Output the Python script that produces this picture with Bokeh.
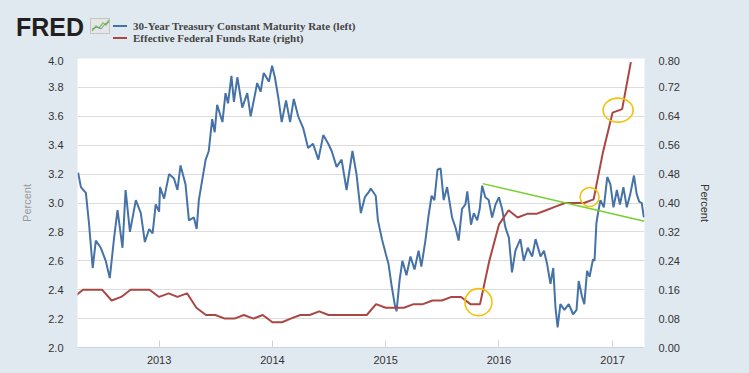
import pandas as pd
from bokeh.plotting import figure
from bokeh.layouts import column
from bokeh.models import (Range1d, LinearAxis, FixedTicker, DatetimeTickFormatter,
                          NumeralTickFormatter, Div)
from bokeh.embed import file_html
from bokeh.resources import INLINE

# ---------------- data ----------------
blue_dates = [
    "2012-04-15", "2012-04-24", "2012-05-10", "2012-05-20", "2012-06-01", "2012-06-11",
    "2012-06-27", "2012-07-13", "2012-07-26", "2012-08-09", "2012-08-20", "2012-09-05",
    "2012-09-15", "2012-09-29", "2012-10-18", "2012-11-03", "2012-11-16", "2012-11-30",
    "2012-12-11", "2012-12-21", "2013-01-01", "2013-01-04", "2013-01-17", "2013-02-02",
    "2013-02-18", "2013-03-01", "2013-03-11", "2013-03-27", "2013-04-07", "2013-04-23",
    "2013-05-02", "2013-05-09", "2013-05-23", "2013-05-31", "2013-06-10", "2013-06-21",
    "2013-06-29", "2013-07-07", "2013-07-24", "2013-08-03", "2013-08-11", "2013-08-22",
    "2013-08-30", "2013-09-10", "2013-09-26", "2013-10-12", "2013-10-23", "2013-11-13",
    "2013-11-24", "2013-12-04", "2013-12-21", "2013-12-31", "2014-01-09", "2014-01-20",
    "2014-01-31", "2014-02-14", "2014-02-27", "2014-03-11", "2014-03-25", "2014-04-10",
    "2014-04-26", "2014-05-12", "2014-05-29", "2014-06-14", "2014-06-30", "2014-07-11",
    "2014-07-27", "2014-08-12", "2014-08-28", "2014-09-16", "2014-09-29", "2014-10-13",
    "2014-10-26", "2014-11-09", "2014-11-14", "2014-11-30", "2014-12-07", "2014-12-20",
    "2015-01-01", "2015-01-10", "2015-01-20", "2015-01-30", "2015-02-05", "2015-02-15",
    "2015-02-24", "2015-03-09", "2015-03-22", "2015-04-04", "2015-04-17", "2015-04-26",
    "2015-05-09", "2015-05-19", "2015-05-29", "2015-06-07", "2015-06-17", "2015-06-27",
    "2015-07-07", "2015-07-18", "2015-08-03", "2015-08-14", "2015-08-24", "2015-09-04",
    "2015-09-15", "2015-09-21", "2015-10-03", "2015-10-12", "2015-10-23", "2015-10-31",
    "2015-11-08", "2015-11-18", "2015-11-29", "2015-12-10", "2015-12-21", "2016-01-01",
    "2016-01-11", "2016-01-22", "2016-02-02", "2016-02-12", "2016-02-23", "2016-03-10",
    "2016-03-21", "2016-04-03", "2016-04-17", "2016-04-28", "2016-05-14", "2016-05-25",
    "2016-06-04", "2016-06-15", "2016-06-24", "2016-07-01", "2016-07-08", "2016-07-17",
    "2016-07-30", "2016-08-13", "2016-08-27", "2016-09-07", "2016-09-14", "2016-09-25",
    "2016-10-02", "2016-10-11", "2016-10-19", "2016-10-30", "2016-11-04", "2016-11-10",
    "2016-11-16", "2016-11-23", "2016-12-04", "2016-12-15", "2016-12-25", "2017-01-04",
    "2017-01-15", "2017-01-25", "2017-02-05", "2017-02-16", "2017-02-27", "2017-03-11",
    "2017-03-20", "2017-03-28", "2017-04-05", "2017-04-12",
]
blue_values = [
    3.21, 3.11, 3.07, 2.86, 2.55, 2.74,
    2.69, 2.60, 2.48, 2.76, 2.95, 2.69,
    3.09, 2.80, 3.02, 2.93, 2.73, 2.82,
    2.79, 2.99, 2.94, 3.11, 3.03, 3.20,
    3.17, 3.09, 3.26, 3.13, 2.88, 2.90,
    2.82, 3.02, 3.20, 3.30, 3.36, 3.58,
    3.49, 3.68, 3.56, 3.76, 3.69, 3.88,
    3.70, 3.87, 3.66, 3.76, 3.60, 3.83,
    3.77, 3.90, 3.84, 3.95, 3.87, 3.73,
    3.56, 3.71, 3.56, 3.72, 3.60, 3.52,
    3.38, 3.41, 3.30, 3.47, 3.41, 3.36,
    3.25, 3.30, 3.09, 3.36, 3.20, 2.93,
    3.04, 3.08, 3.10, 3.05, 2.88, 2.75,
    2.65, 2.58, 2.43, 2.30, 2.25, 2.47,
    2.60, 2.50, 2.63, 2.54, 2.67, 2.56,
    2.74, 2.91, 3.05, 3.02, 3.23, 3.24,
    3.02, 3.11, 2.90, 2.83, 2.74, 2.96,
    2.99, 3.08, 2.85, 2.93, 2.88, 2.96,
    3.12, 3.04, 3.02, 2.90, 2.99, 3.04,
    2.96, 2.83, 2.76, 2.52, 2.67, 2.75,
    2.60, 2.69, 2.63, 2.75, 2.63, 2.67,
    2.58, 2.44, 2.55, 2.28, 2.14, 2.30,
    2.26, 2.30, 2.23, 2.26, 2.46, 2.35,
    2.30, 2.53, 2.49, 2.61, 2.60, 2.86,
    2.94, 3.02, 2.97, 3.18, 3.13, 2.97,
    3.09, 2.99, 3.11, 2.97, 3.06, 3.19,
    3.06, 3.01, 3.00, 2.90,
]

red_months = pd.date_range("2012-04-01", "2017-03-01", freq="MS")
red_values = [
    0.14, 0.16, 0.16, 0.16, 0.13, 0.14, 0.16, 0.16, 0.16,            # 2012 Apr-Dec
    0.14, 0.15, 0.14, 0.15, 0.11, 0.09, 0.09, 0.08, 0.08, 0.09, 0.08, 0.09,  # 2013
    0.07, 0.07, 0.08, 0.09, 0.09, 0.10, 0.09, 0.09, 0.09, 0.09, 0.09, 0.12,  # 2014
    0.11, 0.11, 0.11, 0.12, 0.12, 0.13, 0.13, 0.14, 0.14, 0.12, 0.12, 0.24,  # 2015
    0.34, 0.38, 0.36, 0.37, 0.37, 0.38, 0.39, 0.40, 0.40, 0.40, 0.41, 0.54,  # 2016
    0.65, 0.66, 0.79,                                                 # 2017
]

year_ticks = [2013, 2014, 2015, 2016, 2017]
left_ticks = [2.0, 2.2, 2.4, 2.6, 2.8, 3.0, 3.2, 3.4, 3.6, 3.8, 4.0]
right_ticks = [0.0, 0.08, 0.16, 0.24, 0.32, 0.40, 0.48, 0.56, 0.64, 0.72, 0.80]

# hand-drawn annotations (data units)
trend_dates = ["2015-11-10", "2017-04-14"]
trend_values = [3.134, 2.873]
ring_dates = ["2015-10-27", "2016-10-19", "2017-01-19"]
ring_values = [0.1255, 0.4165, 0.657]          # right axis units
ring_w = [27, 19, 30]
ring_h = [27, 19, 24]

series_names = ["30-Year Treasury Constant Maturity Rate (left)",
                "Effective Federal Funds Rate (right)"]

BG = "#e1e9f0"
FONT = "Liberation Sans"
BLUE = "#4572a7"
RED = "#aa4643"

# ---------------- header: logo + legend (HTML strip above the chart) ----------------
HEADER_H = 56
legend_html = ""
for i, (col, name) in enumerate(zip([BLUE, RED], series_names)):
    yc = 25.5 + 12 * i
    legend_html += (
        f'<div style="position:absolute;left:113px;top:{yc - 1}px;width:14px;height:2px;'
        f'background:{col};"></div>'
        f'<div style="position:absolute;left:133px;top:{yc - 7}px;height:14px;line-height:14px;'
        f'white-space:nowrap;font-family:\'Liberation Serif\';font-weight:bold;'
        f'font-size:11px;color:#444444;">{name}</div>'
    )
icon_svg = (
    '<svg style="position:absolute;left:90px;top:18px;" width="21" height="16" '
    'xmlns="http://www.w3.org/2000/svg">'
    '<rect x="0.5" y="0.5" width="19" height="15" fill="#e6e6e6" stroke="#c4c4c4"/>'
    '<polyline points="2,13 6,8 9,10 13,5 16,7 19,2" fill="none" stroke="#8dc63f" '
    'stroke-width="1.5"/>'
    '<polyline points="2,11 7,9 11,11 15,6 19,4" fill="none" stroke="#5b8fc9" '
    'stroke-width="1"/>'
    '</svg>'
)
header_html = (
    f'<div style="position:relative;width:749px;height:{HEADER_H}px;background:{BG};'
    f'margin:0;padding:0;">'
    f'<div style="position:absolute;left:16px;top:12px;height:30px;line-height:30px;'
    f'font-family:\'Liberation Sans\';font-weight:bold;font-size:25px;color:#231f20;'
    f'white-space:nowrap;">FRED</div>'
    f'{icon_svg}{legend_html}</div>'
)
header = Div(text=header_html, width=749, height=HEADER_H, margin=0,
             styles={"background-color": BG, "margin": "0", "padding": "0"})

# ---------------- chart ----------------
W, H = 749, 373 - HEADER_H
FL, FR, FT, FB = 77, 105, 2, 26   # borders around the plot frame
p = figure(width=W, height=H, x_axis_type="datetime",
           x_range=Range1d(pd.Timestamp("2012-04-13"), pd.Timestamp("2017-04-14")),
           y_range=Range1d(2.0, 4.0),
           output_backend="svg", toolbar_location=None,
           min_border_left=FL, min_border_right=FR, min_border_top=FT, min_border_bottom=FB,
           background_fill_color="white", border_fill_color=BG, outline_line_color=None,
           margin=0)
p.extra_y_ranges = {"right": Range1d(0.0, 0.8)}

p.xgrid.grid_line_color = None
p.ygrid.grid_line_color = "#dcdcdc"
p.ygrid.grid_line_width = 1

xa = p.xaxis[0]
xa.ticker = FixedTicker(ticks=[pd.Timestamp(f"{y}-01-01").value // 10**6 for y in year_ticks])
xa.formatter = DatetimeTickFormatter(days="%Y", months="%Y", years="%Y")
xa.major_tick_in = 7
xa.major_tick_out = 0
xa.major_tick_line_color = "#ccd6e0"
xa.minor_tick_line_color = None
xa.axis_line_color = "#ccd6e0"
xa.major_label_standoff = 8
xa.major_label_text_font = FONT
xa.major_label_text_font_size = "11px"
xa.major_label_text_color = "#333333"

ya = p.yaxis[0]
ya.ticker = FixedTicker(ticks=left_ticks)
ya.formatter = NumeralTickFormatter(format="0.0")
ya.axis_label = "Percent"
ya.axis_label_text_color = "#999999"
ya.axis_label_text_font = FONT
ya.axis_label_text_font_size = "11px"
ya.axis_label_text_font_style = "normal"
ya.axis_label_standoff = 12
ya.major_label_standoff = 8
ya.major_label_text_font = FONT
ya.major_label_text_font_size = "11px"
ya.major_label_text_color = "#333333"
ya.axis_line_color = None
ya.major_tick_line_color = None
ya.minor_tick_line_color = None

ra = LinearAxis(y_range_name="right", ticker=FixedTicker(ticks=right_ticks),
                formatter=NumeralTickFormatter(format="0.00"),
                axis_label="Percent", axis_label_text_color="#333333",
                axis_label_text_font=FONT, axis_label_text_font_size="11px",
                axis_label_text_font_style="normal", axis_label_standoff=16,
                major_label_standoff=8, major_label_text_font=FONT,
                major_label_text_font_size="11px", major_label_text_color="#333333",
                axis_line_color=None, major_tick_line_color=None, minor_tick_line_color=None)
p.add_layout(ra, "right")

p.line(pd.to_datetime(blue_dates), blue_values, line_color=BLUE, line_width=2)
p.line(red_months, red_values, y_range_name="right", line_color=RED, line_width=2)

p.line(pd.to_datetime(trend_dates), trend_values, line_color="#72d12e", line_width=1.5)
p.ellipse(x=pd.to_datetime(ring_dates), y=ring_values, width=ring_w, height=ring_h,
          width_units="screen", height_units="screen", y_range_name="right",
          fill_alpha=0, line_color="#f4c20d", line_width=1.6)

layout = column(header, p, spacing=0, margin=0)

html = file_html(layout, INLINE)
html = html.replace("</head>",
                    "<style>html,body{background:#e1e9f0;overflow:hidden;}</style></head>", 1)
open("out.html", "w").write(html)
